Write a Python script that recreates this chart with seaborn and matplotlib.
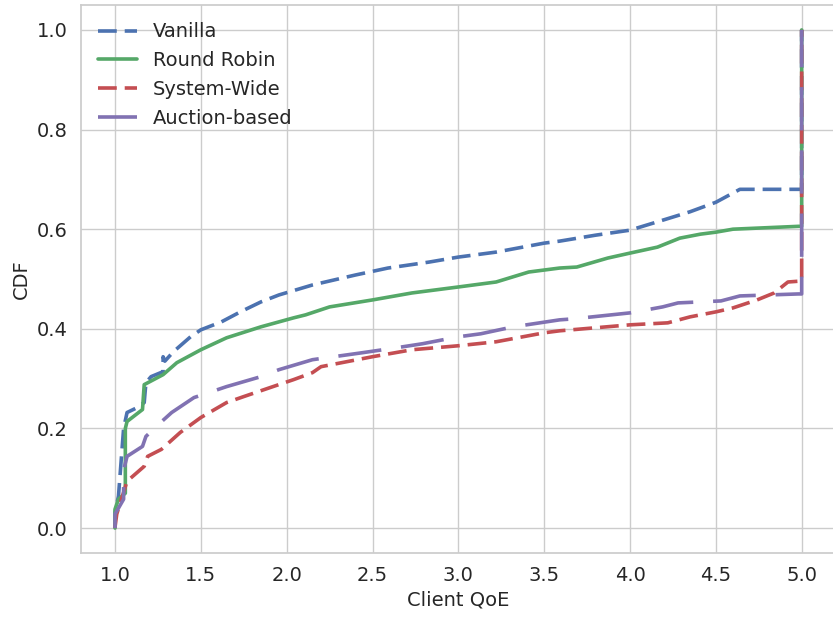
import numpy as np
import pandas as pd
import matplotlib
matplotlib.use("Agg")
import matplotlib.pyplot as plt
import seaborn as sns

methods = ["Vanilla", "Round Robin", "System-Wide", "Auction-based"]
colors = ["#4C72B0", "#55A868", "#C44E52", "#8172B2"]

vanilla_x = [1.0, 1.0, 1.02, 1.05, 1.07, 1.13, 1.17, 1.18, 1.21, 1.28, 1.28, 1.29, 1.34, 1.44, 1.5,
             1.62, 1.73, 1.85, 1.955, 2.15, 2.40, 2.59, 2.83, 3.0, 3.22, 3.5, 3.59, 3.8, 4.0, 4.19,
             4.35, 4.5, 4.64, 5.0, 5.0]
vanilla_y = [0.0, 0.032, 0.064, 0.20, 0.232, 0.242, 0.252, 0.292, 0.304, 0.314, 0.344, 0.335, 0.354,
             0.384, 0.398, 0.414, 0.434, 0.454, 0.468, 0.488, 0.508, 0.522, 0.534, 0.544, 0.554,
             0.572, 0.576, 0.588, 0.598, 0.618, 0.635, 0.654, 0.680, 0.680, 1.0]

rr_x = [1.0, 1.0, 1.02, 1.06, 1.06, 1.07, 1.16, 1.17, 1.28, 1.36, 1.5, 1.65, 1.85, 2.04, 2.11, 2.25,
        2.5, 2.73, 3.0, 3.22, 3.41, 3.59, 3.69, 3.87, 4.0, 4.16, 4.29, 4.41, 4.5, 4.6, 5.0, 5.0]
rr_y = [0.0, 0.038, 0.058, 0.07, 0.20, 0.214, 0.238, 0.288, 0.308, 0.332, 0.358, 0.382, 0.404, 0.422,
        0.428, 0.444, 0.458, 0.472, 0.484, 0.494, 0.514, 0.522, 0.524, 0.542, 0.552, 0.564, 0.582,
        0.590, 0.594, 0.600, 0.606, 1.0]

sw_x = [1.0, 1.0, 1.01, 1.05, 1.07, 1.17, 1.19, 1.27, 1.38, 1.5, 1.65, 1.75, 1.92, 2.04, 2.15, 2.2,
        2.5, 2.73, 3.0, 3.22, 3.5, 3.59, 4.0, 4.22, 4.35, 4.5, 4.6, 4.74, 4.84, 4.92, 5.0, 5.0]
sw_y = [0.0, 0.002, 0.028, 0.072, 0.094, 0.124, 0.144, 0.158, 0.192, 0.222, 0.252, 0.264, 0.284,
        0.298, 0.312, 0.324, 0.344, 0.358, 0.366, 0.374, 0.392, 0.396, 0.408, 0.412, 0.424, 0.434,
        0.442, 0.458, 0.472, 0.494, 0.496, 1.0]

ab_x = [1.0, 1.0, 1.05, 1.05, 1.07, 1.16, 1.18, 1.24, 1.33, 1.46, 1.65, 1.85, 1.955, 2.15, 2.44,
        2.64, 2.79, 3.0, 3.13, 3.32, 3.59, 3.67, 4.0, 4.19, 4.28, 4.53, 4.64, 4.98, 5.0, 5.0]
ab_y = [0.0, 0.028, 0.058, 0.116, 0.144, 0.164, 0.184, 0.204, 0.232, 0.262, 0.284, 0.304, 0.318,
        0.338, 0.352, 0.362, 0.370, 0.384, 0.390, 0.404, 0.418, 0.420, 0.432, 0.444, 0.452, 0.456,
        0.466, 0.470, 0.470, 1.0]

series_x = [vanilla_x, rr_x, sw_x, ab_x]
series_y = [vanilla_y, rr_y, sw_y, ab_y]

frames = []
for name, xs, ys in zip(methods, series_x, series_y):
    frames.append(pd.DataFrame({"Client QoE": xs, "CDF": ys, "method": name}))
df = pd.concat(frames, ignore_index=True)

sns.set_theme(style="whitegrid")
plt.rcParams.update({
    "font.family": ["DejaVu Sans"],
    "xtick.labelsize": 14,
    "ytick.labelsize": 14,
    "axes.labelsize": 14,
    "legend.fontsize": 14,
})

fig = plt.figure(figsize=(8.33, 6.18), dpi=100)
ax = fig.add_axes([80.7 / 833, (618 - 553) / 618, (836 - 80.7) / 833, 548 / 618])

dash_map = {
    "Vanilla": (5.2, 2.2),
    "Round Robin": "",
    "System-Wide": (5.2, 2.2),
    "Auction-based": (12, 5.5),
}

sns.lineplot(data=df, x="Client QoE", y="CDF", hue="method", style="method",
             hue_order=methods, style_order=methods, palette=colors,
             dashes=dash_map, sort=False, estimator=None,
             linewidth=2.6, ax=ax)

ax.set_xlim(0.8, 5.2)
ax.set_ylim(-0.05, 1.05)
ax.set_xticks(np.arange(1.0, 5.01, 0.5))
ax.set_yticks(np.arange(0.0, 1.01, 0.2))
ax.set_xlabel("Client QoE")
ax.set_ylabel("CDF")

sns.move_legend(ax, "upper left", frameon=False, title=None, fontsize=14)

fig.savefig("out.png", dpi=100)
